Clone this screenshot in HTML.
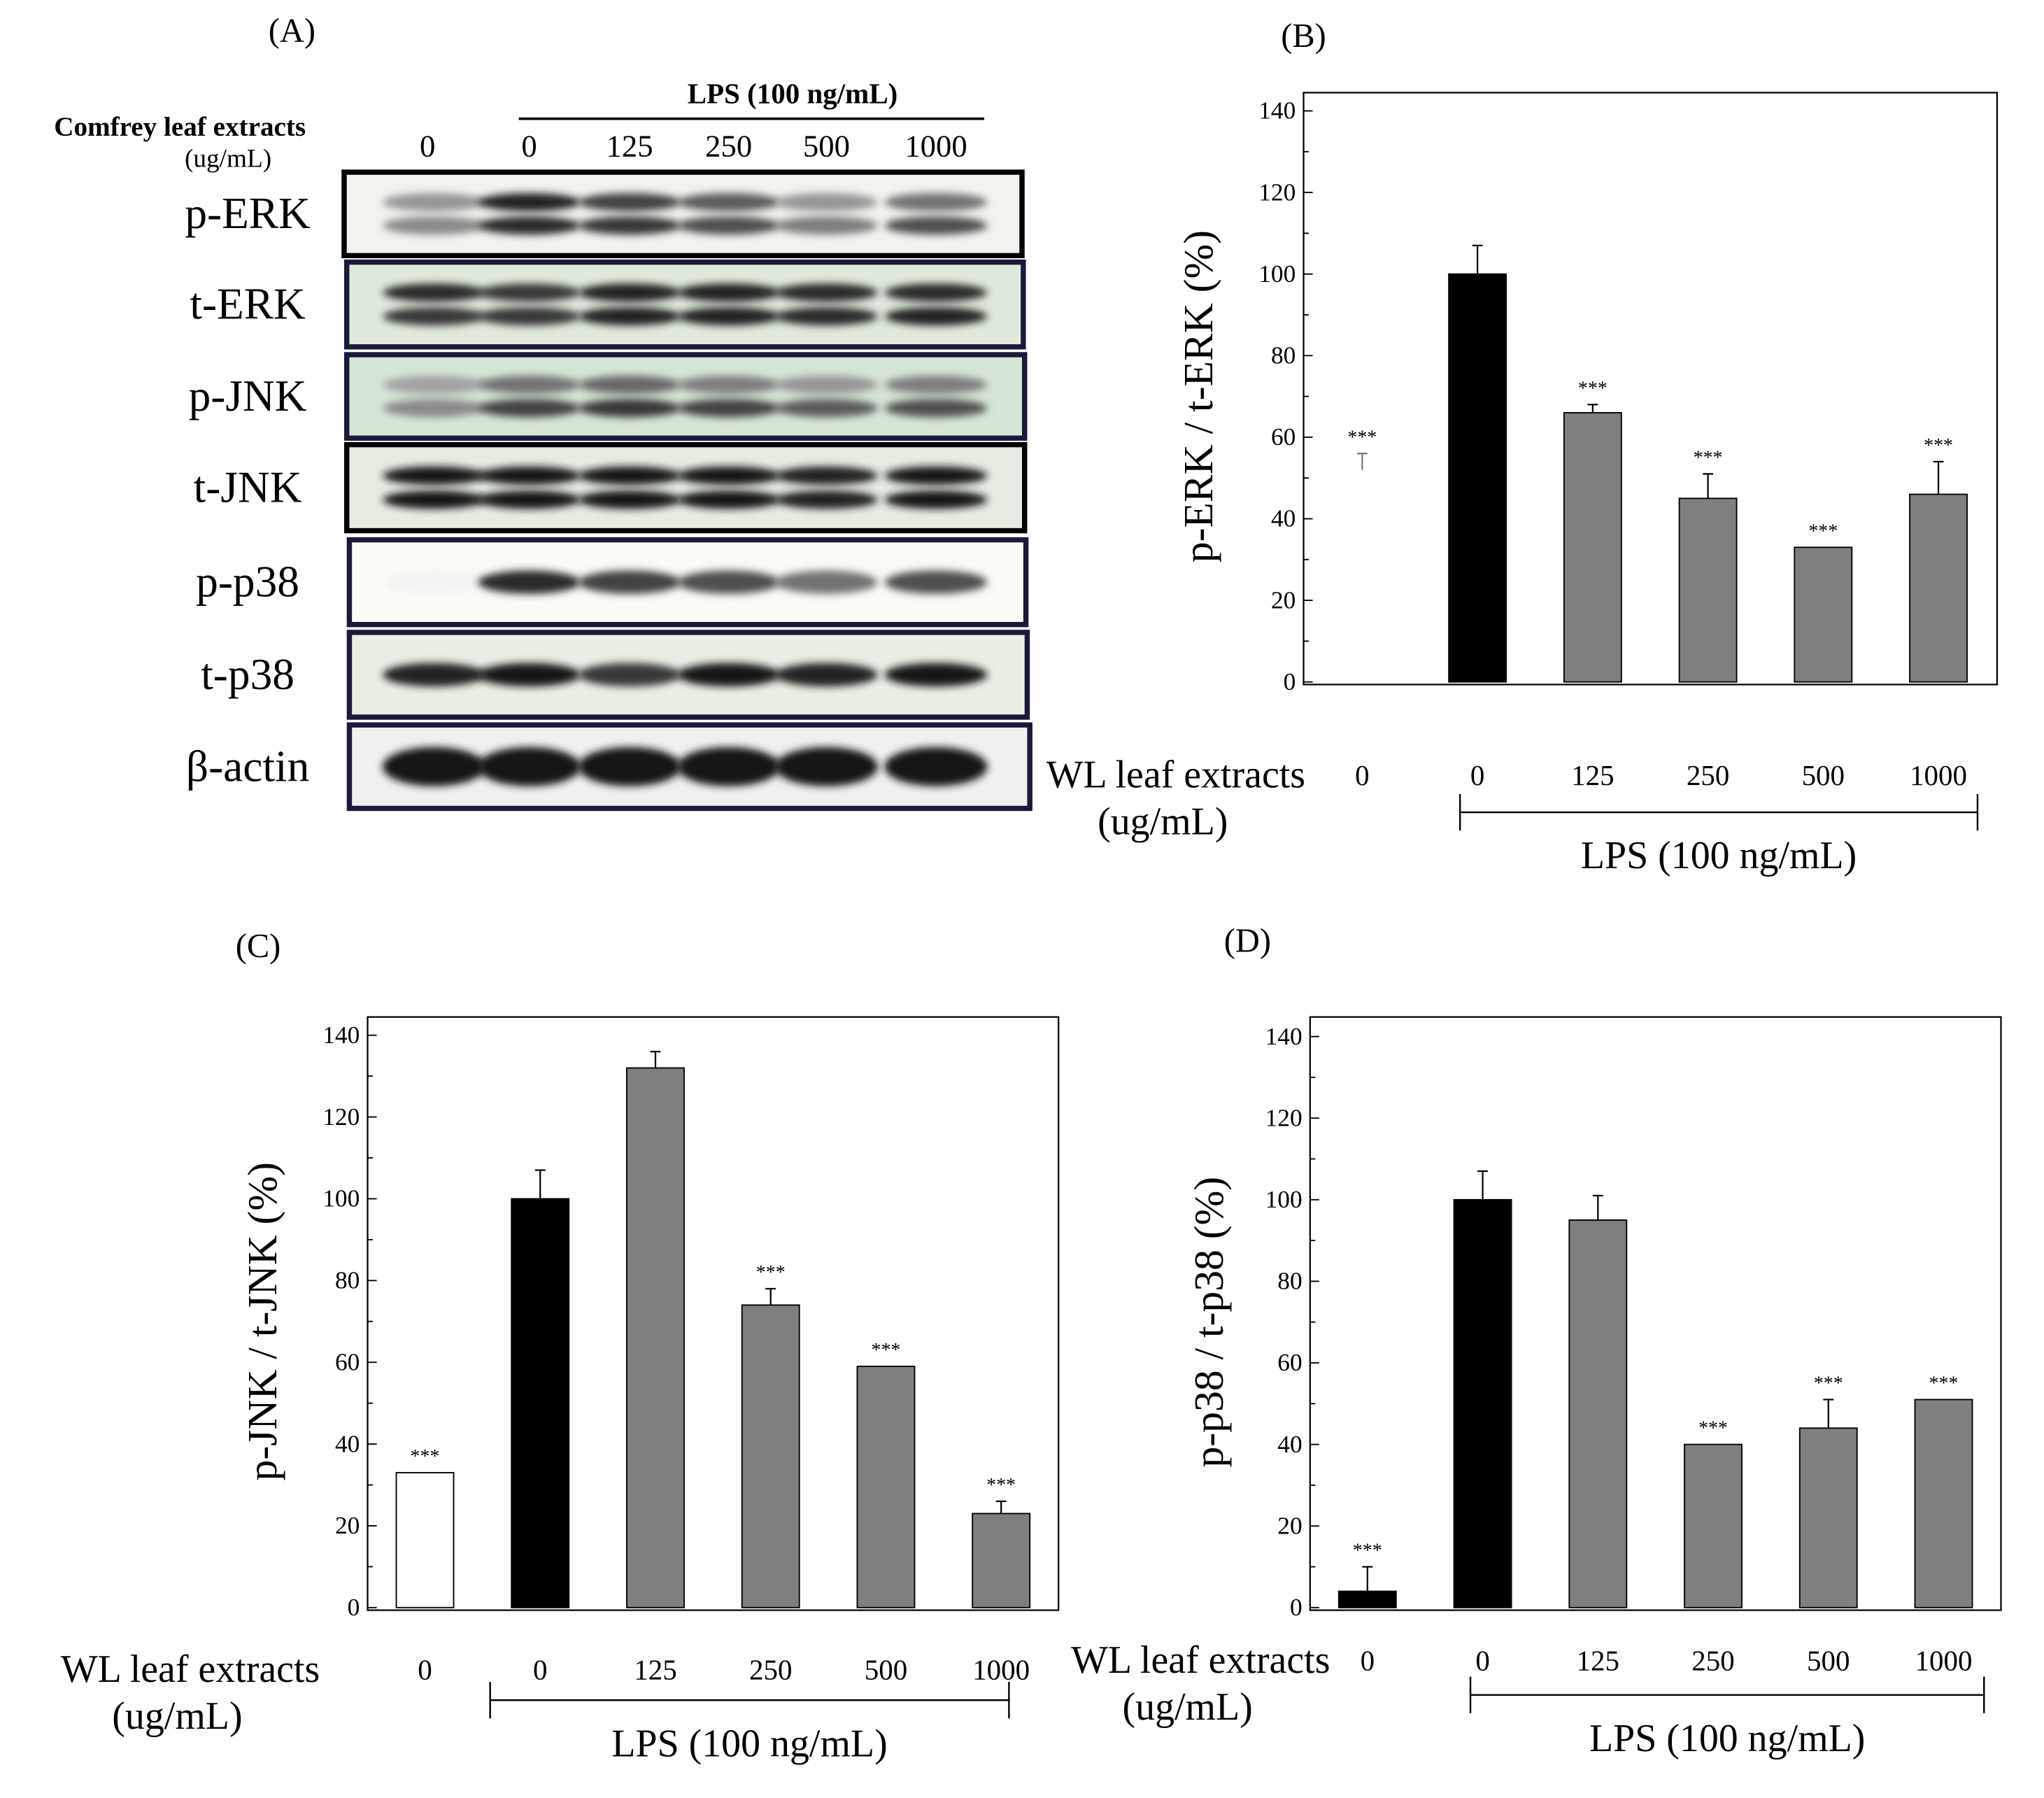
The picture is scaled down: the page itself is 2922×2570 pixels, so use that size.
<!DOCTYPE html>
<html><head><meta charset="utf-8">
<style>
html,body{margin:0;padding:0;background:#fff;}
svg{display:block;font-family:"Liberation Serif",serif;}
</style></head>
<body>
<svg id="fig" width="2922" height="2570" viewBox="0 0 1568 1379" xmlns="http://www.w3.org/2000/svg">
<defs>
<filter id="blur" x="-20%" y="-50%" width="140%" height="200%"><feGaussianBlur stdDeviation="3"/></filter>
</defs>
<g id="blot"></g>
<g id="pB"></g>
<g id="pC"></g>
<g id="pD"></g>
</svg>
<script>
// ---- chart data ----
const categories = ["0", "0", "125", "250", "500", "1000"];
const valuesB = [0, 100, 66, 45, 33, 46];
const errorsB = [56, 7, 2, 6, 0, 8];
const starsB = ["***", "", "***", "***", "***", "***"];
const valuesC = [33, 100, 132, 74, 59, 23];
const errorsC = [0, 7, 4, 4, 0, 3];
const starsC = ["***", "", "", "***", "***", "***"];
const valuesD = [4, 100, 95, 40, 44, 51];
const errorsD = [6, 7, 6, 0, 7, 0];
const starsD = ["***", "", "", "***", "***", "***"];
const yTicks = [0, 20, 40, 60, 80, 100, 120, 140];
const blotRows = ["p-ERK", "t-ERK", "p-JNK", "t-JNK", "p-p38", "t-p38", "β-actin"];
const blotLanes = ["0", "0", "125", "250", "500", "1000"];

const NS = "http://www.w3.org/2000/svg";
function mk(parent, tag, attrs, text) {
  const e = document.createElementNS(NS, tag);
  for (const k in attrs) e.setAttribute(k, attrs[k]);
  if (text !== undefined) e.textContent = text;
  parent.appendChild(e);
  return e;
}

function drawPanel(id, cfg, values, errors, stars) {
  const g = document.getElementById(id);
  const yScale = v => cfg.y0 + (cfg.y140 - cfg.y0) * v / 140;
  const xScale = i => cfg.x0c + i * cfg.step;
  const fr = mk(g, "rect", {x: cfg.l, y: cfg.t, width: cfg.r - cfg.l, height: cfg.b - cfg.t, fill: "none", stroke: "#000", "stroke-width": 1.2});
  
  
  yTicks.forEach((t, i) => {
    const y = yScale(t);
    mk(g, "line", {x1: cfg.l, x2: cfg.l + 7, y1: y, y2: y, stroke: "#000", "stroke-width": 1});
    if (i < yTicks.length - 1) {
      const ym = yScale(t + 10);
      mk(g, "line", {x1: cfg.l, x2: cfg.l + 4, y1: ym, y2: ym, stroke: "#000", "stroke-width": 1});
    }
    const tl = mk(g, "text", {x: cfg.l - 6, y: y + 6, "text-anchor": "end", "font-size": 19}, String(t));
    
    
  });
  const yt = mk(g, "text", {x: 0, y: 0, "font-size": 32, "text-anchor": "middle", transform: `translate(${cfg.yTitleX},${(cfg.y0 + cfg.y140) / 2}) rotate(-90)`}, cfg.yTitle);
  
  
  values.forEach((v, i) => {
    const cx = xScale(i);
    const y = yScale(v);
    const fill = i === 1 ? "#000" : (cfg.firstFill && i === 0 ? cfg.firstFill : "#7f7f7f");
    if (v > 0) {
      const r = mk(g, "rect", {x: cx - 22, y: y, width: 44, height: cfg.y0 - y, fill: fill, stroke: "#000", "stroke-width": 1});
      
      
    }
    let top = y;
    if (errors[i] > 0) {
      const ye = yScale(v + errors[i]);
      const base = v > 0 ? y : yScale(v + errors[i] - 4);
      mk(g, "line", {x1: cx, x2: cx, y1: base, y2: ye, stroke: v > 0 ? "#000" : "#777", "stroke-width": 1.2});
      mk(g, "line", {x1: cx - 4, x2: cx + 4, y1: ye, y2: ye, stroke: v > 0 ? "#000" : "#777", "stroke-width": 1.2});
      top = ye;
    }
    if (stars[i]) {
      const s = mk(g, "text", {x: cx, y: top - 8, "text-anchor": "middle", "font-size": 15}, stars[i]);
      
      
    }
    const cl = mk(g, "text", {x: cx, y: cfg.catY, "text-anchor": "middle", "font-size": 22}, categories[i]);
    
    
  });
  const w1 = mk(g, "text", {x: cfg.wlX, y: cfg.catY + 2, "text-anchor": "middle", "font-size": 30}, "WL leaf extracts");
  
  
  const w2 = mk(g, "text", {x: cfg.wlX - 10, y: cfg.catY + 38, "text-anchor": "middle", "font-size": 30}, "(ug/mL)");
  
  
  mk(g, "line", {x1: cfg.brL, x2: cfg.brR, y1: cfg.brY, y2: cfg.brY, stroke: "#000", "stroke-width": 1.3});
  mk(g, "line", {x1: cfg.brL, x2: cfg.brL, y1: cfg.brY - 14, y2: cfg.brY + 14, stroke: "#000", "stroke-width": 1.3});
  mk(g, "line", {x1: cfg.brR, x2: cfg.brR, y1: cfg.brY - 14, y2: cfg.brY + 14, stroke: "#000", "stroke-width": 1.3});
  const lp = mk(g, "text", {x: (cfg.brL + cfg.brR) / 2, y: cfg.brY + 43, "text-anchor": "middle", "font-size": 30}, "LPS (100 ng/mL)");
  
  
  const pl = mk(g, "text", {x: cfg.labX, y: cfg.labY, "text-anchor": "middle", "font-size": 26}, cfg.label);
  
  
}

drawPanel("pB", {l: 1000, r: 1532, t: 71, b: 525, y0: 523, y140: 85, x0c: 1045, step: 88.4, yTitle: "p-ERK / t-ERK (%)", yTitleX: 930, catY: 602, wlX: 902, brL: 1120, brR: 1517, brY: 623, labX: 1000, labY: 36, label: "(B)"}, valuesB, errorsB, starsB);
drawPanel("pC", {l: 282, r: 812, t: 780, b: 1235, y0: 1233, y140: 794, x0c: 326, step: 88.4, yTitle: "p-JNK / t-JNK (%)", yTitleX: 212, catY: 1288, wlX: 146, brL: 376, brR: 774, brY: 1304, labX: 198, labY: 734, label: "(C)", firstFill: "#fff"}, valuesC, errorsC, starsC);
drawPanel("pD", {l: 1005, r: 1535, t: 780, b: 1235, y0: 1233, y140: 795, x0c: 1049, step: 88.4, yTitle: "p-p38 / t-p38 (%)", yTitleX: 938, catY: 1281, wlX: 921, brL: 1128, brR: 1522, brY: 1300, labX: 957, labY: 730, label: "(D)", firstFill: "#000"}, valuesD, errorsD, starsD);

// ---- western blot ----
(function () {
  const g = document.getElementById("blot");
  const lab = mk(g, "text", {x: 224, y: 32, "text-anchor": "middle", "font-size": 26}, "(A)");
  
  
  const c1 = mk(g, "text", {x: 138, y: 104, "text-anchor": "middle", "font-size": 21, "font-weight": "bold"}, "Comfrey leaf extracts");
  
  
  mk(g, "text", {x: 175, y: 128, "text-anchor": "middle", "font-size": 20}, "(ug/mL)");
  const lt = mk(g, "text", {x: 608, y: 79, "text-anchor": "middle", "font-size": 22, "font-weight": "bold"}, "LPS (100 ng/mL)");
  
  
  mk(g, "line", {x1: 398, x2: 755, y1: 91, y2: 91, stroke: "#000", "stroke-width": 2});
  const laneX = [328, 406, 483, 559, 634, 718];
  blotLanes.forEach((t, i) => {
    const e = mk(g, "text", {x: laneX[i], y: 120, "text-anchor": "middle", "font-size": 24}, t);
    
    
  });
  const rows = [
    {y: 132, h: 64, l: 264, r: 784, bg: "#f2f2ee", bands: [[0.45, 0.5], [0.95, 0.9], [0.8, 0.85], [0.7, 0.75], [0.45, 0.55], [0.6, 0.75]], two: true},
    {y: 201, h: 65, l: 266, r: 785, bg: "#dfeadc", bands: [[0.9, 0.85], [0.85, 0.85], [0.95, 0.95], [0.95, 0.95], [0.9, 0.9], [0.9, 0.95]], two: true},
    {y: 272, h: 64, l: 266, r: 786, bg: "#d6e6d6", bands: [[0.4, 0.5], [0.6, 0.8], [0.65, 0.85], [0.55, 0.8], [0.45, 0.7], [0.55, 0.75]], two: true},
    {y: 341, h: 66, l: 266, r: 786, bg: "#e6ece2", bands: [[1, 1], [1, 1], [1, 1], [1, 1], [0.95, 0.95], [1, 1]], two: true},
    {y: 414, h: 65, l: 268, r: 787, bg: "#fbfbf6", bands: [[0.05], [0.9], [0.8], [0.75], [0.6], [0.75]], two: false},
    {y: 485, h: 65, l: 268, r: 788, bg: "#e9efe4", bands: [[0.95], [1], [0.85], [1], [0.95], [1]], two: false},
    {y: 556, h: 64, l: 268, r: 790, bg: "#f0f0f0", bands: [[1], [1], [1], [1], [1], [1]], two: false, big: true}
  ];
  rows.forEach((r, ri) => {
    const rg = mk(g, "g", {});
    
    
    mk(rg, "rect", {x: r.l, y: r.y, width: r.r - r.l, height: r.h, fill: r.bg});
    const bw = (r.r - r.l) / 6.6;
    r.bands.forEach((b, li) => {
      const cx = laneX[li] + (li === 0 ? 5 : 0);
      b.forEach((a, k) => {
        let cy, ry;
        if (r.two) { cy = r.y + r.h * (k === 0 ? 0.36 : 0.64); ry = 7; }
        else { cy = r.y + r.h * 0.5; ry = r.big ? 15 : 9; }
        const c = Math.round(255 * (1 - a * 0.92));
        mk(rg, "ellipse", {cx: cx, cy: cy, rx: bw * 0.5, ry: ry, fill: `rgb(${c},${c},${c})`, filter: "url(#blur)"});
      });
    });
    mk(rg, "rect", {x: r.l, y: r.y, width: r.r - r.l, height: r.h, fill: "none", stroke: ri === 0 || ri === 3 ? "#000" : "#1a1a3a", "stroke-width": 4});
    const rl = mk(g, "text", {x: 190, y: r.y + r.h / 2 + 11, "text-anchor": "middle", "font-size": 34}, blotRows[ri]);
    
    
  });
})();
</script>
</body></html>
